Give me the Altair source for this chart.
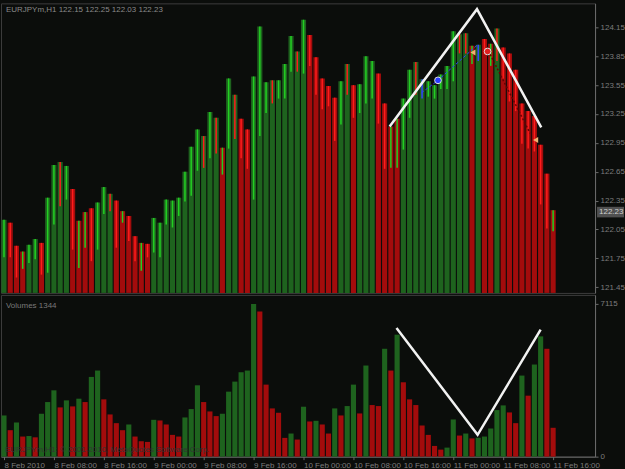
import json
import altair as alt
import pandas as pd

# ---------------- data ----------------
highs = [122.15, 122.12, 121.88, 121.82, 121.89, 121.95, 121.91, 122.38, 122.72, 122.75,
         122.71, 122.47, 122.14, 122.23, 122.27, 122.33, 122.49, 122.42, 122.35, 122.24,
         122.19, 121.98, 121.91, 121.90, 122.17, 122.12, 122.36, 122.35, 122.38, 122.65,
         122.91, 123.09, 123.02, 123.27, 123.21, 122.90, 123.62, 123.45, 123.20, 123.09,
         123.64, 124.16, 123.58, 123.60, 123.60, 123.77, 124.06, 123.90, 124.23, 124.07,
         123.84, 123.62, 123.54, 123.42, 123.59, 123.77, 123.55, 123.56, 123.85, 123.80,
         123.67, 123.36, 123.12, 123.20, 123.41, 123.71, 123.79, 123.61, 123.59, 123.55,
         123.66, 123.75, 124.11, 124.08, 124.09, 123.96, 123.97, 124.03, 123.98, 124.14,
         123.94, 123.88, 123.71, 123.36, 123.28, 123.23, 122.93, 122.63, 122.25]
lows = [121.76, 121.76, 121.55, 121.64, 121.70, 121.74, 121.58, 121.60, 122.10, 122.29,
        122.36, 121.84, 121.65, 121.86, 121.72, 121.84, 122.21, 122.24, 121.86, 122.12,
        121.93, 121.72, 121.62, 121.76, 121.81, 121.76, 122.10, 122.07, 122.19, 122.34,
        122.40, 122.66, 122.69, 122.79, 122.84, 122.62, 122.89, 122.99, 122.79, 122.68,
        122.36, 123.02, 123.26, 123.36, 123.41, 123.41, 123.69, 123.69, 123.67, 123.75,
        123.45, 123.30, 123.33, 122.97, 123.14, 123.45, 123.21, 123.26, 123.36, 123.41,
        123.15, 122.68, 122.69, 122.69, 122.88, 123.21, 123.45, 123.41, 123.43, 123.41,
        123.51, 123.51, 123.59, 123.88, 123.88, 123.77, 123.80, 123.87, 123.75, 123.80,
        123.62, 123.38, 123.28, 122.94, 122.89, 122.86, 122.31, 122.06, 122.03]
column_dir = ("GRRRGGRGGG" "GRRRRGGGRR" "RRRRGGGGGG" "GGGGGRGGRR" "GGGGGGGGGR"
              "RRRRGGRGGG" "RRRRGGGGGG" "GGGGGRGRRG" "RRRRRRRRR")
wick_dir = ("GRRGGGRGGR" "GRGGRGGRRG" "RRGRGGGGGG" "GGRGRGGRRR" "GGGRGGGRGR"
            "RRRRGRRGGG" "RRGGGGRBGG" "GGGRRGBRGR" "RRRRRRRRG")
volumes = [1919, 1233, 1591, 936, 960, 900, 1997, 2543, 3089, 2294,
           2621, 2340, 2699, 2543, 3713, 4010, 2668, 1966, 1560, 1233,
           1498, 936, 718, 687, 1716, 1685, 1498, 1014, 936, 1826,
           2216, 3323, 2543, 2106, 1888, 1997, 3027, 3495, 3932, 4010,
           7115, 6756, 3355, 2247, 2044, 874, 1077, 796, 2325, 1638,
           1670, 1498, 1077, 2247, 1919, 2356, 3355, 2013, 4244, 2403,
           2356, 5024, 4010, 5680, 3464, 2668, 2403, 1451, 1014, 499,
           328, 421, 1732, 983, 1077, 850, 880, 936, 1311, 2169,
           2387, 2060, 1560, 3776, 2840, 4291, 5602, 5024, 1344]
volume_dir = ("GRGRGRGGGR" "GRGRGGRRRR" "GRRRGRRRRG" "GGRRRGGGGG" "GRRRRRGRGR"
              "GRRGRGGRGR" "RGRGRRRRRR" "RGGRGRGGGG" "GRRGRGGRR")

price_ticks = [121.45, 121.75, 122.05, 122.35, 122.65, 122.95, 123.25, 123.55, 123.85, 124.15]
time_tick_bars = [1, 9, 17, 25, 33, 41, 49, 57, 65, 73, 81, 89]
time_tick_labels = ["8 Feb 2010", "8 Feb 08:00", "8 Feb 16:00", "9 Feb 00:00",
                    "9 Feb 08:00", "9 Feb 16:00", "10 Feb 00:00", "10 Feb 08:00",
                    "10 Feb 16:00", "11 Feb 00:00", "11 Feb 08:00", "11 Feb 16:00"]

zig_price_bar = [62.8, 76.8, 87.1]
zig_price_val = [123.12, 124.34, 123.11]
zig_vol_bar = [63.9, 76.9, 87.0]
zig_vol_val = [5992, 1016, 5912]

blue_line_bar = [67.9, 70.55, 76.9]
blue_line_val = [123.47, 123.60, 123.97]
red_line_bar = [78.9, 85.3]
red_line_val = [123.87, 123.05]
dot_bar = [70.55, 78.5]
dot_val = [123.60, 123.90]
dot_kind = ["blue", "red"]
arrow_bar = [76.15, 86.2]
arrow_val = [123.89, 122.98]

title_text = "EURJPYm,H1  122.15 122.25 122.03 122.23"
last_close = 122.23
last_volume = 1344
max_volume = 7115

# ---------------- styling ----------------
BG = "#0b0d0b"
TXT = "#7c7c7c"
GREEN_COL = "#1e631e"
RED_COL = "#a30c0c"
FONT = "Liberation Sans"

bars = pd.DataFrame({
    "bar": list(range(1, len(highs) + 1)),
    "high": highs, "low": lows,
    "col": list(column_dir), "wick": list(wick_dir),
    "vol": volumes, "vcol": list(volume_dir),
})

x_scale = alt.Scale(domain=[0.52, 95.72], nice=False, zero=False)
p_scale = alt.Scale(domain=[121.39, 124.40], nice=False, zero=False)
v_scale = alt.Scale(domain=[0, 7533], nice=False)

fill_expr = f"datum.col == 'G' ? '{GREEN_COL}' : '{RED_COL}'"
wick_expr = "datum.wick == 'G' ? '#22d022' : (datum.wick == 'R' ? '#ff1c1c' : '#3346ff')"
vfill_expr = f"datum.vcol == 'G' ? '{GREEN_COL}' : '{RED_COL}'"

price_axis = alt.Axis(orient="right", values=price_ticks, format=".2f", title=None,
                      grid=False, tickSize=3, labelPadding=2, domainColor="#6a6a6a",
                      tickColor="#6a6a6a", labelOverlap=False)


def py(field):
    return alt.Y(field, scale=p_scale, axis=price_axis)


def px(field):
    return alt.X(field, scale=x_scale, axis=None)


columns = alt.Chart(bars).transform_calculate(
    x0="datum.bar - 0.41", x1="datum.bar + 0.41", base="121.39", fc=fill_expr
).mark_bar().encode(
    x=px("x0:Q"), x2="x1:Q",
    y=py("high:Q"), y2="base:Q",
    color=alt.Color("fc:N", scale=None),
)

wicks = alt.Chart(bars).transform_calculate(wc=wick_expr).mark_rule(strokeWidth=1.5).encode(
    x=px("bar:Q"), y=py("high:Q"), y2="low:Q",
    color=alt.Color("wc:N", scale=None),
)

zig_p = alt.Chart(pd.DataFrame({"bar": zig_price_bar, "p": zig_price_val})).mark_line(
    color="#f2f2f2", strokeWidth=2.5).encode(x=px("bar:Q"), y=py("p:Q"), order="bar:Q")

blue_line = alt.Chart(pd.DataFrame({"bar": blue_line_bar, "p": blue_line_val})).mark_line(
    color="#2a3cff", strokeWidth=1, strokeDash=[3, 2]).encode(x=px("bar:Q"), y=py("p:Q"), order="bar:Q")

red_line = alt.Chart(pd.DataFrame({"bar": red_line_bar, "p": red_line_val})).mark_line(
    color="#6a0000", strokeWidth=1.5, strokeDash=[2, 2]).encode(x=px("bar:Q"), y=py("p:Q"), order="bar:Q")

dots = alt.Chart(pd.DataFrame({"bar": dot_bar, "p": dot_val, "k": dot_kind})).transform_calculate(
    c="datum.k == 'blue' ? '#2a3cff' : '#e02020'"
).mark_circle(size=45, stroke="#dddddd", strokeWidth=1, opacity=1).encode(
    x=px("bar:Q"), y=py("p:Q"), color=alt.Color("c:N", scale=None))

arrows = alt.Chart(pd.DataFrame({"bar": arrow_bar, "p": arrow_val})).mark_point(
    shape="triangle-left", filled=True, size=35, color="#f0b070", opacity=1).encode(
    x=px("bar:Q"), y=py("p:Q"))

title_mark = alt.Chart(pd.DataFrame({"t": [title_text]})).mark_text(
    align="left", baseline="middle", color="#8a8a8a", fontSize=8, font=FONT).encode(
    x=alt.value(5), y=alt.value(7), text="t:N")

price_box = alt.Chart(pd.DataFrame({"p": [last_close]})).transform_calculate(
    p0="datum.p - 0.055", p1="datum.p + 0.055").mark_rect(color="#505050").encode(
    x=alt.value(597), x2=alt.value(624), y=py("p0:Q"), y2="p1:Q")

price_box_text = alt.Chart(pd.DataFrame({"p": [last_close]})).mark_text(
    align="left", baseline="middle", color="#d0d0d0", fontSize=8, font=FONT).encode(
    x=alt.value(599), y=py("p:Q"), text=alt.Text("p:Q", format=".2f"))

main = alt.layer(columns, wicks, zig_p, blue_line, red_line, dots, arrows,
                 title_mark, price_box, price_box_text).properties(width=595, height=290)

# ---------------- volume panel ----------------
label_expr = json.dumps(time_tick_labels) + "[(datum.value - 1) / 8]"

time_axis = alt.Axis(values=time_tick_bars, labelExpr=label_expr, title=None, grid=False,
                     labelAlign="left", tickSize=3, labelPadding=2, domainColor="#6a6a6a",
                     tickColor="#6a6a6a", labelOverlap=False, labelFlush=False)
vol_axis = alt.Axis(orient="right", values=[0, max_volume], format="d", title=None, grid=False,
                    tickSize=3, labelPadding=2, domainColor="#6a6a6a", tickColor="#6a6a6a",
                    labelOverlap=False)

vbars = alt.Chart(bars).transform_calculate(
    x0="datum.bar - 0.41", x1="datum.bar + 0.41", vbase="0", fc=vfill_expr
).mark_bar().encode(
    x=alt.X("x0:Q", scale=x_scale, axis=time_axis), x2="x1:Q",
    y=alt.Y("vol:Q", scale=v_scale, axis=vol_axis), y2="vbase:Q",
    color=alt.Color("fc:N", scale=None),
)

zig_v = alt.Chart(pd.DataFrame({"bar": zig_vol_bar, "v": zig_vol_val})).mark_line(
    color="#f2f2f2", strokeWidth=2.5).encode(
    x=alt.X("bar:Q", scale=x_scale, axis=time_axis),
    y=alt.Y("v:Q", scale=v_scale, axis=vol_axis), order="bar:Q")

vol_title = alt.Chart(pd.DataFrame({"t": [f"Volumes {last_volume}"]})).mark_text(
    align="left", baseline="middle", color="#7a7a7a", fontSize=8, font=FONT).encode(
    x=alt.value(5), y=alt.value(11), text="t:N")

copyright_mark = alt.Chart(pd.DataFrame({"t": ["EURJPYm,H1: \u00a9 2001-2010, MetaQuotes Software Corp."]})).mark_text(
    align="left", baseline="middle", color="#343434", fontSize=8, font=FONT).encode(
    x=alt.value(4), y=alt.value(155), text="t:N")

volume = alt.layer(vbars, zig_v, copyright_mark, vol_title).properties(width=595, height=162)

chart = alt.vconcat(main, volume, spacing=0).properties(
    background=BG, padding={"left": 0, "top": 2, "right": 0, "bottom": 0}
).configure_view(stroke="#3c3c3c", strokeWidth=1).configure_axis(
    labelColor=TXT, labelFont=FONT, labelFontSize=8, labelOverlap=False
)

chart.save("out.html", embed_options={"renderer": "svg", "actions": False})
